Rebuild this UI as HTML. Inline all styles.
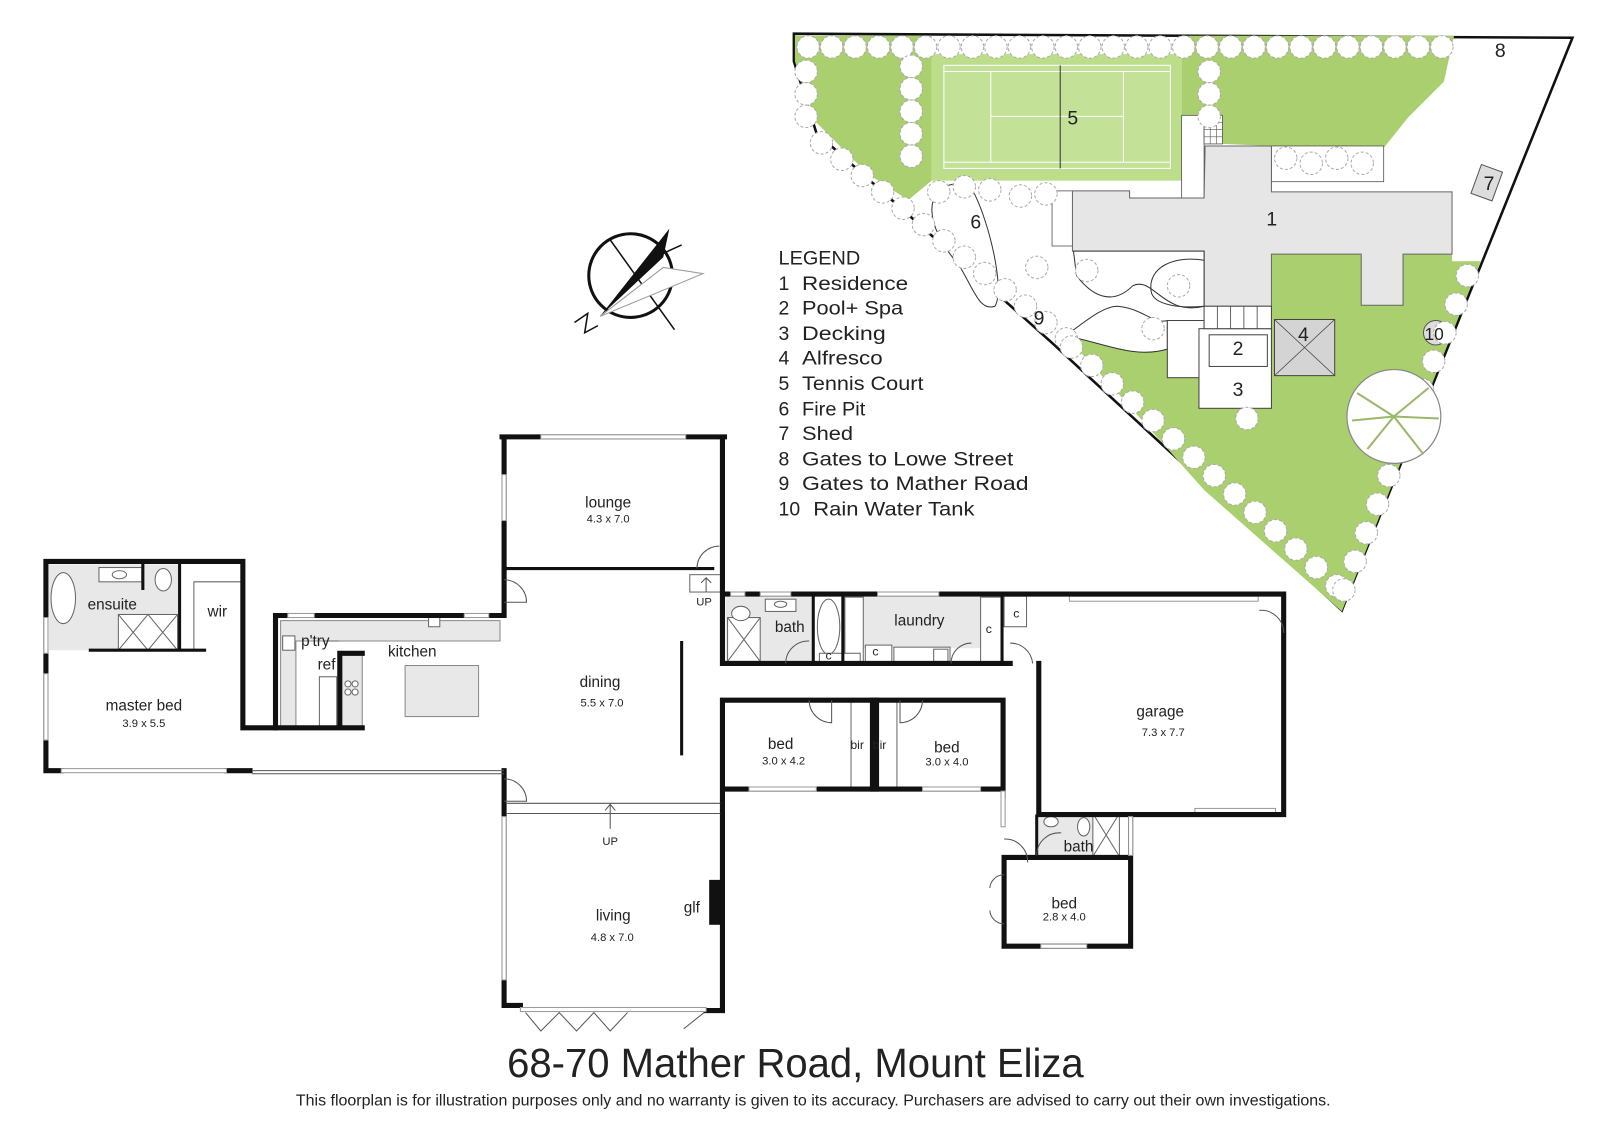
<!DOCTYPE html>
<html><head><meta charset="utf-8"><style>
html,body{margin:0;padding:0;background:#fff;}
svg{display:block;}
text{font-family:"Liberation Sans",sans-serif;fill:#222;}
</style></head><body>
<svg id="s" width="1600" height="1132" viewBox="0 0 1568 1109" preserveAspectRatio="none" xmlns="http://www.w3.org/2000/svg">
<rect width="1568" height="1109" fill="#fff"/>
<!-- SITE PLAN -->
<polygon points="778,33 1541,37 1315,598 1030,335 800,130 778,60" fill="#fff" stroke="#111" stroke-width="2.5"/>
<polygon points="779,35 913,35 913,177 890,196 850,170 800,120 779,60" fill="#a9cf6e"/>
<polygon points="1158,35 1425,35 1415,80 1380,115 1356,145 1246,143 1198,141 1198,113 1158,113" fill="#a9cf6e"/>
<polygon points="1044,329 1100,338 1144,342 1144,370 1175,370 1175,400 1246,400 1246,249 1423,249 1423,256 1451,256 1315,599 1180,480 1100,390" fill="#a9cf6e"/>
<rect x="913" y="53" width="245" height="124" fill="#bcde8a"/>
<rect x="925" y="64" width="222" height="101" fill="#c3e297" stroke="#fff" stroke-width="1"/>
<path d="M925,70 H1147 M925,159 H1147 M971,70 V159 M1101,70 V159 M971,114 H1101" stroke="#fff" stroke-width="1" fill="none"/>
<line x1="1039" y1="64" x2="1039" y2="165" stroke="#333" stroke-width="1"/>
<rect x="1158" y="113" width="22" height="81" fill="#fff" stroke="#555" stroke-width="0.8"/>
<rect x="1180" y="113" width="18" height="28" fill="#fff" stroke="#555" stroke-width="0.8"/>
<path d="M1180,120 H1198 M1180,127 H1198 M1180,134 H1198 M1186,113 V141 M1192,113 V141" stroke="#555" stroke-width="0.6"/>
<rect x="1031" y="187" width="20" height="54" fill="#fff" stroke="#555" stroke-width="0.8"/>
<rect x="1246" y="143" width="110" height="35" fill="#fff" stroke="#555" stroke-width="0.8"/>
<polygon points="1181,143 1246,143 1246,188 1423,188 1423,249 1375,249 1375,299 1334,299 1334,249 1246,249 1246,300 1180,300 1180,246 1051,246 1051,187 1107,187 1107,194 1180,194" fill="#e6e6e6" stroke="#666" stroke-width="1"/>
<path d="M936,180 C905,185 905,220 940,260 C955,285 960,305 975,300 C985,285 970,220 955,190 Z" fill="#fff" stroke="#333" stroke-width="1"/>
<path d="M1052,246 H1180 V300 C1140,310 1130,270 1110,280 C1090,300 1070,290 1055,270 Z" fill="#fff" stroke="#333" stroke-width="1"/>
<path d="M1180,255 C1150,250 1125,262 1128,285 C1130,300 1160,302 1180,300" fill="none" stroke="#333" stroke-width="1"/>
<path d="M1044,329 C1060,318 1080,300 1095,300 C1120,302 1130,318 1144,314 V342 C1110,352 1080,335 1044,329 Z" fill="#fff" stroke="#333" stroke-width="1"/>
<rect x="1144" y="314" width="36" height="56" fill="#fff" stroke="#444" stroke-width="1"/>
<rect x="1175" y="322" width="71" height="78" fill="#fff" stroke="#444" stroke-width="1"/>
<rect x="1180" y="300" width="66" height="22" fill="#fff" stroke="#444" stroke-width="1"/>
<path d="M1193,300 V322 M1206,300 V322 M1219,300 V322 M1232,300 V322" stroke="#444" stroke-width="0.8"/>
<rect x="1185" y="328" width="57" height="31" fill="#fff" stroke="#444" stroke-width="1"/>
<rect x="1249" y="313" width="59" height="55" fill="#d4d4d4" stroke="#444" stroke-width="1"/>
<path d="M1249,313 L1308,368 M1308,313 L1249,368" stroke="#444" stroke-width="0.8"/>
<rect x="1446" y="164" width="22" height="30" fill="#ddd" stroke="#555" stroke-width="1" transform="rotate(20 1457 179)"/>
<circle cx="1407" cy="326" r="12" fill="#ddd" stroke="#555" stroke-width="1"/>
<g id="trees"></g>
<g fill="#fff" stroke="#888" stroke-width="1.2">
<circle cx="1366" cy="408" r="46"/>
<path d="M1366,408 L1330,385 M1366,408 L1400,380 M1366,408 L1340,440 M1366,408 L1395,445 M1366,408 L1410,410 M1366,408 L1325,412" stroke="#9ab86a" stroke-width="2"/>
</g>
<g font-size="19">
<text x="1046" y="122">5</text><text x="1241" y="221">1</text><text x="951" y="224">6</text>
<text x="1013" y="318">9</text><text x="1208" y="348">2</text><text x="1208" y="388">3</text>
<text x="1272" y="334">4</text><text x="1454" y="186">7</text><text x="1465" y="56">8</text>
<text x="1396" y="333" font-size="17">10</text>
</g>
<!-- LEGEND -->
<g font-size="19" fill="#222" lengthAdjust="spacingAndGlyphs">
<text x="763" y="259" textLength="80" lengthAdjust="spacingAndGlyphs">LEGEND</text>
<text x="763" y="284">1</text><text x="786" y="284" textLength="104" lengthAdjust="spacingAndGlyphs">Residence</text>
<text x="763" y="308">2</text><text x="786" y="308" textLength="99" lengthAdjust="spacingAndGlyphs">Pool+ Spa</text>
<text x="763" y="333">3</text><text x="786" y="333" textLength="82" lengthAdjust="spacingAndGlyphs">Decking</text>
<text x="763" y="357">4</text><text x="786" y="357" textLength="79" lengthAdjust="spacingAndGlyphs">Alfresco</text>
<text x="763" y="382">5</text><text x="786" y="382" textLength="119" lengthAdjust="spacingAndGlyphs">Tennis Court</text>
<text x="763" y="407">6</text><text x="786" y="407" textLength="62" lengthAdjust="spacingAndGlyphs">Fire Pit</text>
<text x="763" y="431">7</text><text x="786" y="431" textLength="50" lengthAdjust="spacingAndGlyphs">Shed</text>
<text x="763" y="456">8</text><text x="786" y="456" textLength="207" lengthAdjust="spacingAndGlyphs">Gates to Lowe Street</text>
<text x="763" y="480">9</text><text x="786" y="480" textLength="222" lengthAdjust="spacingAndGlyphs">Gates to Mather Road</text>
<text x="763" y="505">10</text><text x="797" y="505" textLength="158" lengthAdjust="spacingAndGlyphs">Rain Water Tank</text>
</g>
<!-- COMPASS -->
<circle cx="618" cy="270" r="41" fill="none" stroke="#111" stroke-width="3"/>
<path d="M598,235 L661,323 M646,250 L668,240" stroke="#111" stroke-width="1.5"/>
<polygon points="656,224 650,252 588,310" fill="#111"/>
<polygon points="588,310 689,268 650,262" fill="#fff" stroke="#999" stroke-width="1"/>
<polyline points="563,316 576,307 573,326 586,319" fill="none" stroke="#111" stroke-width="1.5"/>
<!-- FLOOR PLAN -->
<g fill="#e8e8e8" stroke="#888" stroke-width="1">
<rect x="48" y="553" width="128" height="84" stroke="none"/>
<polygon points="275,608 490,608 490,628 290,628 290,713 275,713"/>
<rect x="333" y="640" width="22" height="73"/>
<rect x="397" y="652" width="72" height="50"/>
<rect x="711" y="585" width="87" height="64" stroke="none"/>
<rect x="846" y="585" width="115" height="50" stroke="none"/>
<rect x="1018" y="797" width="53" height="42" stroke="none"/>
</g>
<g fill="#fff" stroke="#666" stroke-width="1">
<ellipse cx="62" cy="586" rx="12" ry="25"/>
<rect x="97" y="556" width="42" height="14"/><ellipse cx="117" cy="563" rx="7" ry="4"/>
<ellipse cx="160" cy="568" rx="8" ry="11"/>
<rect x="116" y="602" width="58" height="35"/>
<path d="M116,602 L145,637 L174,602 M116,637 L145,602 L174,637" fill="none"/>
<path d="M190,637 V570 H237" fill="none"/>
<rect x="420" y="604" width="11" height="10"/>
<rect x="277" y="623" width="12" height="14"/>
<path d="M318,628 H332" fill="none"/>
<rect x="313" y="663" width="17" height="50"/>
<circle cx="341" cy="670" r="3"/><circle cx="348" cy="670" r="3"/><circle cx="341" cy="678" r="3"/><circle cx="348" cy="678" r="3"/>
<rect x="713" y="605" width="32" height="43"/><path d="M713,605 L745,648 M745,605 L713,648" fill="none"/>
<ellipse cx="726" cy="601" rx="9" ry="7"/>
<rect x="750" y="587" width="30" height="12"/><ellipse cx="765" cy="592" rx="6" ry="3"/>
<ellipse cx="812" cy="614" rx="11" ry="27"/>
<rect x="828" y="585" width="18" height="64"/>
<rect x="961" y="585" width="20" height="64"/>
<rect x="984" y="584" width="22" height="30"/>
<rect x="876" y="634" width="55" height="16"/><rect x="915" y="636" width="14" height="12"/>
<rect x="803" y="640" width="40" height="10"/><rect x="848" y="632" width="26" height="18"/>
<rect x="834" y="687" width="21" height="86"/><rect x="859" y="687" width="20" height="86"/>
<rect x="1048" y="584" width="185" height="5" stroke="#999"/>
<rect x="1171" y="792" width="79" height="4" stroke="#999"/>
<ellipse cx="1030" cy="805" rx="7" ry="5"/><ellipse cx="1062" cy="810" rx="6" ry="9"/>
<rect x="1071" y="797" width="26" height="42"/><path d="M1071,797 L1097,839 M1097,797 L1071,839" fill="none"/>
<rect x="676" y="563" width="32" height="17"/>
</g>
<g fill="none" stroke="#111" stroke-width="5" stroke-linecap="square">
<path d="M45,550 H238 V713 H270 M270,603 V713 M270,603 H494 V557 M45,550 V755 M45,755 H60 M222,755 H245"/>
<path d="M492,428 H710 M494,428 V557 M708,428 V582 H1000 M1000,582 H1258 V798 M708,582 V650 H990 M1018,650 V798 H1258"/>
<path d="M708,686 H983 V780 M708,773 H983 M708,686 V990 M494,755 V985 H510 M692,990 H708"/>
<path d="M855,686 V773 M859,686 V773"/>
<path d="M333,640 H355 M333,640 V713 M270,713 H355"/>
<path d="M984,840 H1108 V927 H984 V840 M1108,798 V840"/>
</g>
<g fill="none" stroke="#111" stroke-width="3">
<path d="M494,557 H700"/><path d="M87,637 H202 M176,550 V637 M140,550 V578"/>
<path d="M797,582 V650 M826,582 V650 M982,582 V650"/>
<path d="M1016,798 V840 M1018,770 V798"/>
<rect x="695" y="862" width="13" height="44" fill="#111" stroke="none"/>
<line x1="668" y1="628" x2="668" y2="740"/>
</g>
<!-- windows -->
<g fill="#fff" stroke="#999" stroke-width="1">
<rect x="530" y="426" width="142" height="4"/><rect x="60" y="753" width="162" height="4"/>
<rect x="282" y="601" width="26" height="4"/><rect x="455" y="601" width="24" height="4"/>
<rect x="43" y="605" width="4" height="35"/><rect x="43" y="660" width="4" height="65"/>
<rect x="492" y="465" width="4" height="45"/><rect x="492" y="800" width="4" height="160"/>
<rect x="510" y="987" width="182" height="4"/>
<rect x="734" y="771" width="66" height="4"/><rect x="904" y="771" width="57" height="4"/>
<rect x="1020" y="925" width="45" height="4"/><rect x="1106" y="800" width="4" height="38"/>
<rect x="745" y="580" width="30" height="4"/><rect x="860" y="580" width="60" height="4"/>
<rect x="716" y="580" width="14" height="4"/>
<rect x="981" y="775" width="4" height="35"/>
</g>
<g fill="none" stroke="#555" stroke-width="1">
<path d="M247,755 H494 M247,758 H494"/>
<path d="M497,787 H706 M497,797 H706 M598,812 V788 M593,794 L598,788 L603,794"/>
<path d="M692,580 V566 M687,571 L692,566 L697,571"/>
<path d="M515,992 L530,1010 L548,992 L565,1010 L582,992 L598,1010 L615,992 M690,992 L670,1008"/>
<path d="M494,568 A22,22 0 0 1 516,590 H494 M494,763 A22,22 0 0 1 516,785 H494"/>
<path d="M705,535 A22,22 0 0 0 683,557"/>
<path d="M770,650 A22,22 0 0 1 793,628 M793,686 A22,22 0 0 0 815,708 V686 M904,686 A22,22 0 0 1 882,708 V686"/>
<path d="M1007,845 A22,22 0 0 0 984,822 M1012,650 A22,22 0 0 0 990,630 M1234,598 A22,22 0 0 1 1258,620 M984,857 A14,14 0 0 0 970,870 M984,905 A14,14 0 0 1 970,892 M1016,838 A22,22 0 0 1 1040,816"/>
<path d="M932,650 A20,20 0 0 1 952,630"/>
</g>
<!-- labels -->
<g font-size="15" text-anchor="middle">
<text x="596" y="497">lounge</text><text x="110" y="597">ensuite</text><text x="213" y="604">wir</text>
<text x="309" y="633">p'try</text><text x="404" y="643">kitchen</text><text x="320" y="656">ref</text>
<text x="141" y="696">master bed</text><text x="588" y="673">dining</text><text x="774" y="619">bath</text>
<text x="901" y="613">laundry</text><text x="765" y="734">bed</text><text x="928" y="737">bed</text>
<text x="1137" y="702">garage</text><text x="601" y="902">living</text><text x="678" y="894">glf</text>
<text x="1057" y="834">bath</text><text x="1043" y="890">bed</text>
<text x="840" y="734" font-size="12">bir</text><text x="862" y="734" font-size="12">bir</text>
<text x="812" y="646" font-size="12">c</text><text x="858" y="642" font-size="12">c</text>
<text x="969" y="620" font-size="12">c</text><text x="996" y="605" font-size="12">c</text>
</g>
<g font-size="11" text-anchor="middle">
<text x="596" y="512">4.3 x 7.0</text><text x="141" y="712">3.9 x 5.5</text><text x="590" y="692">5.5 x 7.0</text>
<text x="768" y="749">3.0 x 4.2</text><text x="928" y="750">3.0 x 4.0</text><text x="1140" y="721">7.3 x 7.7</text>
<text x="600" y="922">4.8 x 7.0</text><text x="1043" y="902">2.8 x 4.0</text>
<text x="690" y="593">UP</text><text x="598" y="828">UP</text>
</g>
<text x="497" y="1055" font-size="40" textLength="565" lengthAdjust="spacingAndGlyphs">68-70 Mather Road, Mount Eliza</text>
<text x="290" y="1083" font-size="15" textLength="1014" lengthAdjust="spacingAndGlyphs">This floorplan is for illustration purposes only and no warranty is given to its accuracy. Purchasers are advised to carry out their own investigations.</text>
</svg>
<script>
var g=document.getElementById('trees'),ns='http://www.w3.org/2000/svg',pts=[];
for(var x=792;x<=1420;x+=23)pts.push([x,46]);
for(var y=70;y<=130;y+=22)pts.push([790,y]);
for(var y=65;y<=165;y+=22)pts.push([893,y]);
for(var y=70;y<=115;y+=22)pts.push([1185,y]);
for(var i=0;i<=12;i++){pts.push([805+i*20,140+i*16]);}
for(var i=0;i<=13;i++){pts.push([1050+i*20,340+i*18]);}
for(var i=0;i<=11;i++){pts.push([1438-i*11,270+i*28]);}
[[1260,155],[1285,160],[1310,155],[1335,160],[920,188],[945,183],[970,186],[1000,192],[1025,190],[1016,262],[1065,265],[1155,280],[1130,322],[1222,410]].forEach(function(p){pts.push(p);});
pts.forEach(function(p){var c=document.createElementNS(ns,'circle');c.setAttribute('cx',p[0]);c.setAttribute('cy',p[1]);c.setAttribute('r',11);c.setAttribute('fill','#fff');c.setAttribute('stroke','#aaa');c.setAttribute('stroke-width','1');c.setAttribute('stroke-dasharray','3 2');g.appendChild(c);});
</script>
</body></html>
